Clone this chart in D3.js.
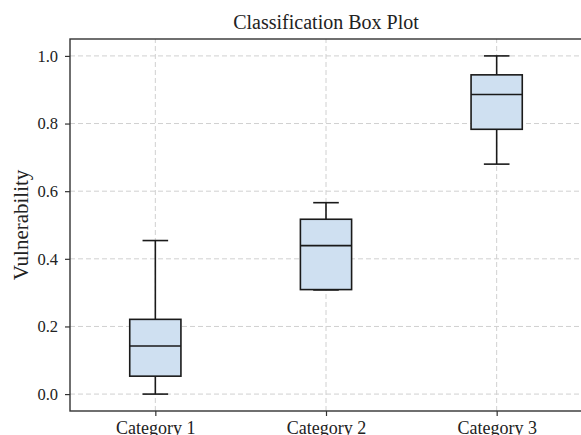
<!DOCTYPE html>
<html>
<head>
<meta charset="utf-8">
<script src="https://cdn.jsdelivr.net/npm/d3@7"></script>
<style>
  body { margin: 0; background: #fff; }
  svg text { font-family: "Liberation Serif", "Times New Roman", serif; fill: #222; }
</style>
</head>
<body>
<div id="chart"></div>
<script>
//Chart data
var categories = ["Category 1", "Category 2", "Category 3"];
var whiskerLow  = [0.000, 0.308, 0.680];
var q1          = [0.053, 0.309, 0.783];
var medians     = [0.142, 0.439, 0.886];
var q3          = [0.221, 0.517, 0.944];
var whiskerHigh = [0.454, 0.566, 1.000];
var yTicks      = [0.0, 0.2, 0.4, 0.6, 0.8, 1.0];

var W = 581, H = 435;
var m = {top: 39, right: -1, bottom: 24, left: 70};

var svg = d3.select('#chart').append('svg')
    .attr('width', W)
    .attr('height', H);

var x = d3.scaleLinear().domain([0.5, 3.5]).range([m.left, W - m.right]);
var y = d3.scaleLinear().domain([-0.05, 1.05]).range([H - m.bottom, m.top]);

var boxHalf = (x(1.15) - x(1));
var capHalf = (x(1.075) - x(1));

//Grid lines
var grid = svg.append('g').attr('class', 'grid');
grid.selectAll('line.h').data(yTicks).enter().append('line')
    .attr('x1', x(0.5)).attr('x2', x(3.5))
    .attr('y1', function(d){ return y(d); })
    .attr('y2', function(d){ return y(d); });
grid.selectAll('line.v').data(categories).enter().append('line')
    .attr('x1', function(d, i){ return x(i + 1); })
    .attr('x2', function(d, i){ return x(i + 1); })
    .attr('y1', y(-0.05)).attr('y2', y(1.05));
grid.selectAll('line')
    .attr('stroke', '#d0d0d0')
    .attr('stroke-width', 1)
    .attr('stroke-dasharray', '5,3');

//Boxes
var boxes = svg.append('g').selectAll('g').data(categories).enter().append('g');

boxes.append('line') //upper whisker
    .attr('x1', function(d, i){ return x(i + 1); })
    .attr('x2', function(d, i){ return x(i + 1); })
    .attr('y1', function(d, i){ return y(q3[i]); })
    .attr('y2', function(d, i){ return y(whiskerHigh[i]); });
boxes.append('line') //lower whisker
    .attr('x1', function(d, i){ return x(i + 1); })
    .attr('x2', function(d, i){ return x(i + 1); })
    .attr('y1', function(d, i){ return y(q1[i]); })
    .attr('y2', function(d, i){ return y(whiskerLow[i]); });
boxes.append('line') //top cap
    .attr('x1', function(d, i){ return x(i + 1) - capHalf; })
    .attr('x2', function(d, i){ return x(i + 1) + capHalf; })
    .attr('y1', function(d, i){ return y(whiskerHigh[i]); })
    .attr('y2', function(d, i){ return y(whiskerHigh[i]); });
boxes.append('line') //bottom cap
    .attr('x1', function(d, i){ return x(i + 1) - capHalf; })
    .attr('x2', function(d, i){ return x(i + 1) + capHalf; })
    .attr('y1', function(d, i){ return y(whiskerLow[i]); })
    .attr('y2', function(d, i){ return y(whiskerLow[i]); });
boxes.append('rect')
    .attr('x', function(d, i){ return x(i + 1) - boxHalf; })
    .attr('width', 2 * boxHalf)
    .attr('y', function(d, i){ return y(q3[i]); })
    .attr('height', function(d, i){ return y(q1[i]) - y(q3[i]); })
    .attr('fill', '#cfe0f1');
boxes.append('line') //median
    .attr('x1', function(d, i){ return x(i + 1) - boxHalf; })
    .attr('x2', function(d, i){ return x(i + 1) + boxHalf; })
    .attr('y1', function(d, i){ return y(medians[i]); })
    .attr('y2', function(d, i){ return y(medians[i]); });
boxes.selectAll('line, rect')
    .attr('stroke', '#1a1a1a')
    .attr('stroke-width', 1.6);

//Axes
var yAxis = d3.axisLeft(y).tickValues(yTicks).tickFormat(d3.format('.1f')).tickSize(5).tickPadding(7);
var xAxis = d3.axisBottom(x).tickValues([1, 2, 3])
    .tickFormat(function(d){ return categories[d - 1]; }).tickSize(5).tickPadding(5);

var gy = svg.append('g').attr('transform', 'translate(' + m.left + ',0)').call(yAxis);
var gx = svg.append('g').attr('transform', 'translate(0,' + (H - m.bottom) + ')').call(xAxis);
[gx, gy].forEach(function(g){
    g.select('.domain').remove();
    g.selectAll('.tick line').attr('stroke', '#333').attr('stroke-width', 1.2);
    g.selectAll('.tick text').attr('fill', '#222');
});
gy.selectAll('.tick text').style('font-size', '16.5px');
gx.selectAll('.tick text').style('font-size', '18px');

//Frame
svg.append('rect')
    .attr('x', x(0.5)).attr('y', y(1.05))
    .attr('width', x(3.5) - x(0.5)).attr('height', y(-0.05) - y(1.05))
    .attr('fill', 'none')
    .attr('stroke', '#333')
    .attr('stroke-width', 1.4);

//Title and label
svg.append('text')
    .attr('x', (x(0.5) + x(3.5)) / 2).attr('y', 29)
    .attr('text-anchor', 'middle')
    .style('font-size', '20px')
    .text('Classification Box Plot');

svg.append('text')
    .attr('transform', 'translate(28,' + ((y(-0.05) + y(1.05)) / 2) + ') rotate(-90)')
    .attr('text-anchor', 'middle')
    .style('font-size', '21px')
    .text('Vulnerability');
</script>
</body>
</html>
